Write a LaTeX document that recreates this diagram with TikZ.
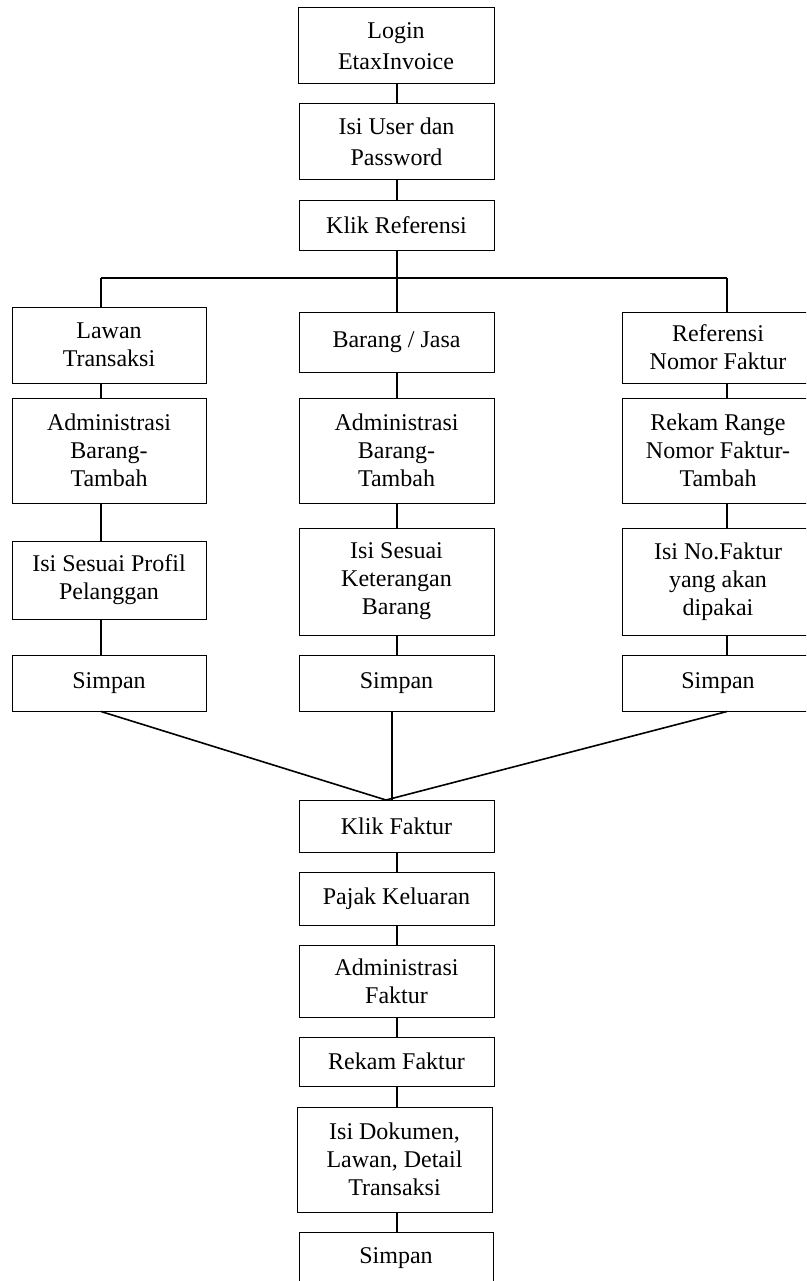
\documentclass[tikz,border=0pt]{standalone}
\usepackage{fontspec}
\setmainfont{Liberation Serif}
\tikzset{
  fbox/.style={draw, line width=1pt, rectangle, inner sep=0pt, align=center,
    font=\fontsize{24}{28}\selectfont},
  widebox/.style={font=\fontsize{24}{30.5}\selectfont},
  conn/.style={line width=1.6pt},
}
\newcommand\flowbox[7][]{%
  \pgfmathsetmacro\fbw{#5-#3}\pgfmathsetmacro\fbh{#6-#4}%
  \pgfmathsetmacro\fbx{(#3+#5)/2}\pgfmathsetmacro\fby{(#4+#6)/2}%
  \node[fbox, #1, minimum width=\fbw pt, minimum height=\fbh pt] (#2) at (\fbx,\fby) {#7};}
\begin{document}
\begin{tikzpicture}[x=1pt,y=-1pt]
\useasboundingbox (0,0) rectangle (806,1281);
\fill[white] (0,0) rectangle (806,1281);
\clip (0,0) rectangle (806,1281);
% column line positions
\coordinate (colL) at (101,0);
\coordinate (colM) at (397,0);
\coordinate (colR) at (727,0);
\coordinate (hb) at (0,278);
% top chain
\flowbox[widebox]{login}{298}{8}{494}{84}{Login\\EtaxInvoice}
\flowbox[widebox]{user}{299}{104}{494}{180}{Isi User dan\\Password}
\flowbox{ref}{299}{201}{494}{250}{Klik Referensi}
% left column
\flowbox{lawan}{12}{307}{206}{383}{Lawan\\Transaksi}
\flowbox{admL}{12}{398}{206}{503}{Administrasi\\Barang-\\Tambah}
\flowbox{isiL}{12}{541}{206}{619}{Isi Sesuai Profil\\Pelanggan}
\flowbox{simL}{12}{655}{206}{711}{Simpan}
% middle column
\flowbox{barang}{299}{312}{494}{372}{Barang / Jasa}
\flowbox{admM}{299}{398}{494}{503}{Administrasi\\Barang-\\Tambah}
\flowbox{isiM}{299}{528}{494}{635}{Isi Sesuai\\Keterangan\\Barang}
\flowbox{simM}{299}{655}{494}{711}{Simpan}
% right column
\flowbox{refF}{622}{312}{814}{383}{Referensi\\Nomor Faktur}
\flowbox{rekR}{622}{398}{814}{503}{Rekam Range\\Nomor Faktur-\\Tambah}
\flowbox{isiR}{622}{528}{814}{635}{Isi No.Faktur\\yang akan\\dipakai}
\flowbox{simR}{622}{655}{814}{711}{Simpan}
% bottom chain
\flowbox{klik}{299}{800}{494}{852}{Klik Faktur}
\flowbox{pajak}{299}{872}{494}{925}{Pajak Keluaran}
\flowbox{admF}{299}{945}{494}{1017}{Administrasi\\Faktur}
\flowbox{rekF}{299}{1037}{494}{1086}{Rekam Faktur}
\flowbox{isiD}{297}{1107}{492}{1212}{Isi Dokumen,\\Lawan, Detail\\Transaksi}
\flowbox{simF}{299}{1232}{493}{1284}{Simpan}
% merge points
\coordinate (mrg) at (386,800);
\coordinate (mrgM) at (392,800);
% top connectors
\draw[conn] (login.south -| colM) -- (user.north -| colM);
\draw[conn] (user.south -| colM) -- (ref.north -| colM);
\draw[conn] (ref.south -| colM) -- (barang.north -| colM);
\draw[line width=2pt] (hb -| colL) -- (hb -| colR);
\draw[conn] (hb -| colL) -- (lawan.north -| colL);
\draw[conn] (hb -| colR) -- (refF.north -| colR);
% left connectors
\draw[conn] (lawan.south -| colL) -- (admL.north -| colL);
\draw[conn] (admL.south -| colL) -- (isiL.north -| colL);
\draw[conn] (isiL.south -| colL) -- (simL.north -| colL);
% middle connectors
\draw[conn] (barang.south -| colM) -- (admM.north -| colM);
\draw[conn] (admM.south -| colM) -- (isiM.north -| colM);
\draw[conn] (isiM.south -| colM) -- (simM.north -| colM);
% right connectors
\draw[conn] (refF.south -| colR) -- (rekR.north -| colR);
\draw[conn] (rekR.south -| colR) -- (isiR.north -| colR);
\draw[conn] (isiR.south -| colR) -- (simR.north -| colR);
% merge
\draw[conn] (simL.south -| colL) -- (mrg);
\draw[conn] (simM.south -| mrgM) -- (mrgM);
\draw[conn] (simR.south -| colR) -- (mrg);
% bottom connectors
\draw[conn] (klik.south -| colM) -- (pajak.north -| colM);
\draw[conn] (pajak.south -| colM) -- (admF.north -| colM);
\draw[conn] (admF.south -| colM) -- (rekF.north -| colM);
\draw[conn] (rekF.south -| colM) -- (isiD.north -| colM);
\draw[conn] (isiD.south -| colM) -- (simF.north -| colM);
\end{tikzpicture}
\end{document}
